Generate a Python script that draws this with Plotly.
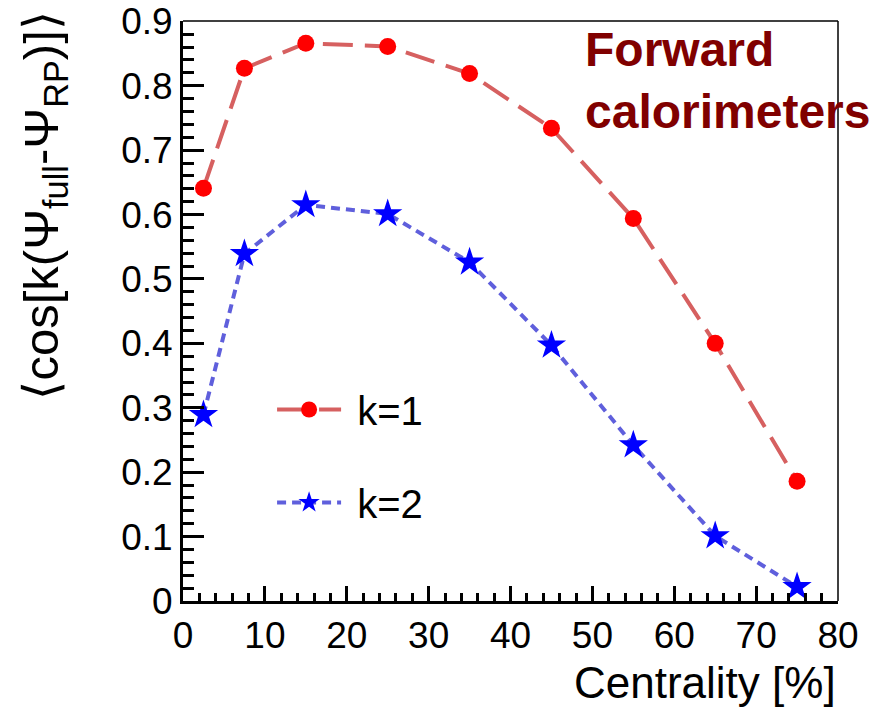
import plotly.graph_objects as go

centrality = [2.5, 7.5, 15, 25, 35, 45, 55, 65, 75]
res_k1 = [0.641, 0.827, 0.866, 0.861, 0.819, 0.734, 0.594, 0.400, 0.186]
res_k2 = [0.289, 0.539, 0.615, 0.601, 0.526, 0.397, 0.242, 0.101, 0.022]
x_ticks = [0, 10, 20, 30, 40, 50, 60, 70, 80]
y_ticks = [0, 0.1, 0.2, 0.3, 0.4, 0.5, 0.6, 0.7, 0.8, 0.9]
y_tick_text = ["0", "0.1", "0.2", "0.3", "0.4", "0.5", "0.6", "0.7", "0.8", "0.9"]
x_minor = [2 * i for i in range(41)]
y_minor = [round(0.02 * i, 2) for i in range(46)]

REG = "Liberation Sans, Arial, sans-serif"
X_RANGE = [0, 80]
Y_RANGE = [0, 0.9005]

fig = go.Figure()
fig.add_trace(go.Scatter(
    x=centrality, y=res_k1, name="\u00a0k=1", mode="lines+markers",
    line=dict(color="#d66060", width=4, dash="30px,12px"),
    marker=dict(symbol="circle", size=17, color="#ff0000"),
    legendgroup="a"))
fig.add_trace(go.Scatter(
    x=centrality, y=res_k2, name="\u00a0k=2", mode="lines+markers",
    line=dict(color="#5f5fdc", width=4, dash="9px,6px"),
    marker=dict(symbol="star", size=22, color="#0000ff"),
    legendgroup="b"))
# empty trace so the minor-tick overlay axes are drawn
fig.add_trace(go.Scatter(x=[None], y=[None], xaxis="x2", yaxis="y2",
                         showlegend=False, hoverinfo="skip"))

major = dict(showgrid=False, zeroline=False, showline=True, linecolor="black", linewidth=3,
             ticks="inside", tickwidth=2.5, tickcolor="black", automargin=False,
             ticklabeloverflow="allow")
minor = dict(showgrid=False, zeroline=False, showline=False, showticklabels=False,
             ticks="inside", tickwidth=2.5, tickcolor="black", automargin=False,
             tickmode="array")

fig.update_layout(
    xaxis=dict(range=X_RANGE, tickmode="array", tickvals=x_ticks, ticklen=15,
               tickfont=dict(family=REG, size=37, color="black"), **major),
    yaxis=dict(range=Y_RANGE, tickmode="array", tickvals=y_ticks, ticktext=y_tick_text,
               ticklen=21, tickfont=dict(family=REG, size=37, color="black"), **major),
    xaxis2=dict(range=X_RANGE, tickvals=x_minor, ticklen=8, overlaying="x", anchor="y",
                side="bottom", **minor),
    yaxis2=dict(range=Y_RANGE, tickvals=y_minor, ticklen=11, overlaying="y", anchor="x",
                side="left", **minor),
)

fig.add_shape(type="line", xref="paper", yref="paper", x0=0, x1=1, y0=1, y1=1,
              line=dict(color="black", width=1.5))
fig.add_shape(type="line", xref="paper", yref="paper", x0=1, x1=1, y0=0, y1=1,
              line=dict(color="black", width=1.5))

fig.add_annotation(
    text="⟨cos[k(Ψ<sub>full</sub>-Ψ<sub>RP</sub>)]⟩", textangle=-90,
    xref="paper", yref="paper", x=-0.212, y=1.02, xanchor="center", yanchor="top",
    showarrow=False, font=dict(family=REG, size=49, color="black"))
fig.add_annotation(
    text="Centrality [%]", xref="paper", yref="paper", x=1.0, y=-0.14,
    xanchor="right", yanchor="middle", showarrow=False,
    font=dict(family=REG, size=44, color="black"))
fig.add_annotation(
    text="<b>Forward<br>calorimeters</b>", xref="paper", yref="paper",
    x=0.61, y=1.0, xanchor="left", yanchor="top", align="left", showarrow=False,
    font=dict(family=REG, size=48, color="#800000"))

fig.update_layout(
    width=871, height=706,
    margin=dict(l=175, r=41, t=13, b=113, pad=0),
    paper_bgcolor="white", plot_bgcolor="white",
    legend=dict(x=0.136, y=0.25, xanchor="left", yanchor="middle",
                font=dict(family=REG, size=40, color="black"),
                bgcolor="rgba(0,0,0,0)", tracegroupgap=38, itemwidth=64),
    showlegend=True,
)

fig.write_html("out.html")
